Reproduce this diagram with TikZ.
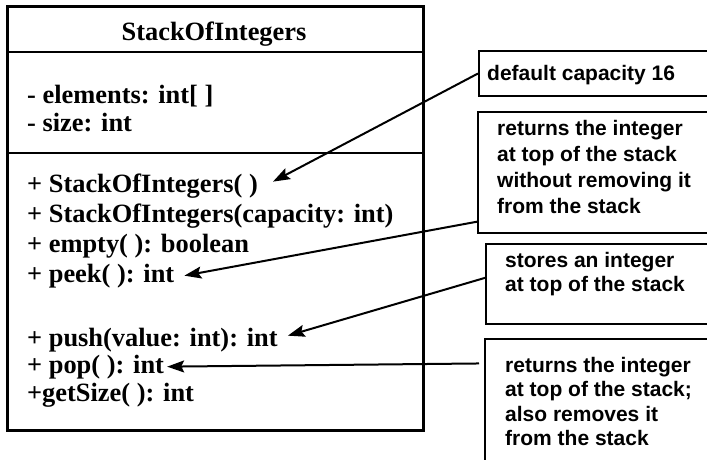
\documentclass[tikz,border=0pt]{standalone}
\usepackage{fontspec}
\setmainfont{Liberation Serif}
\newfontfamily\arialf{Liberation Sans}
\usetikzlibrary{arrows.meta,calc}
\begin{document}
\begin{tikzpicture}[x=1pt,y=-1pt,
  umltext/.style={anchor=base west,inner sep=0pt,font=\fontsize{26.4}{30}\selectfont\bfseries},
  umltitle/.style={anchor=base,inner sep=0pt,font=\fontsize{26.4}{30}\selectfont\bfseries},
  notetext/.style={anchor=north west,inner sep=0pt,align=left,font=\fontsize{21}{24.5}\selectfont\arialf\bfseries},
  notebox/.style={draw,line width=2pt,anchor=north west,inner sep=0pt},
  arr/.style={line width=2pt,-{Stealth[length=17pt,width=12pt,inset=3pt]}}]
\useasboundingbox (0,0) rectangle (707,459);
\clip (0,0) rectangle (707,459);
\fill[white] (0,0) rectangle (707,459);
% class box
\node[draw,line width=2.5pt,anchor=north west,minimum width=416pt,minimum height=424pt,inner sep=0pt] (cls) at (6,5) {};
\draw[line width=2pt] (6,52) coordinate (d1a) -- (422,52) coordinate (d1b);
\draw[line width=2pt] (6,153) coordinate (d2a) -- (422,153) coordinate (d2b);
\node[umltitle] (title) at (214,40) {StackOfIntegers};
\node[umltext] (a1) at (27,103) {- elements: int[ ]};
\node[umltext] (a2) at (27,131) {- size: int};
\node[umltext] (m1) at (27,192) {+ StackOfIntegers( )};
\node[umltext] (m2) at (27,222) {+ StackOfIntegers(capacity: int)};
\node[umltext] (m3) at (27,252) {+ empty( ): boolean};
\node[umltext] (m4) at (27,282) {+ peek( ): int};
\node[umltext] (m5) at (27,346) {+ push(value: int): int};
\node[umltext] (m6) at (27,373) {+ pop( ): int};
\node[umltext] (m7) at (27,401) {+getSize( ): int};
% note boxes
\node[notebox,minimum width=242pt,minimum height=45pt] (b1) at (478,50) {};
\node[notebox,minimum width=243pt,minimum height=121pt] (b2) at (477,111) {};
\node[notebox,minimum width=235pt,minimum height=80pt] (b3) at (485,243) {};
\node[notebox,minimum width=236pt,minimum height=132pt] (b4) at (484,338) {};
\node[notetext] (t1) at (487,65) {default capacity 16};
\node[notetext] (t2) at (497,120) {returns the integer\\[1.4pt]at top of the stack\\[1.4pt]without removing it\\[1.4pt]from the stack};
\node[notetext] (t3) at (505,252) {stores an integer\\at top of the stack};
\node[notetext] (t4) at (505,357) {returns the integer\\at top of the stack;\\also removes it\\from the stack};
% arrows
\draw[arr] (b1.west) -- ([xshift=15pt,yshift=4pt]m1.east);
\draw[arr] ($(b2.north west)!0.9!(b2.south west)$) -- ([xshift=10pt]m4.east);
\draw[arr] ($(b3.north west)!0.425!(b3.south west)$) -- ([xshift=10pt,yshift=4pt]m5.east);
\draw[arr] ([xshift=-5pt]$(b4.north west)!0.19!(b4.south west)$) -- ([xshift=3pt]m6.east);
\end{tikzpicture}
\end{document}
